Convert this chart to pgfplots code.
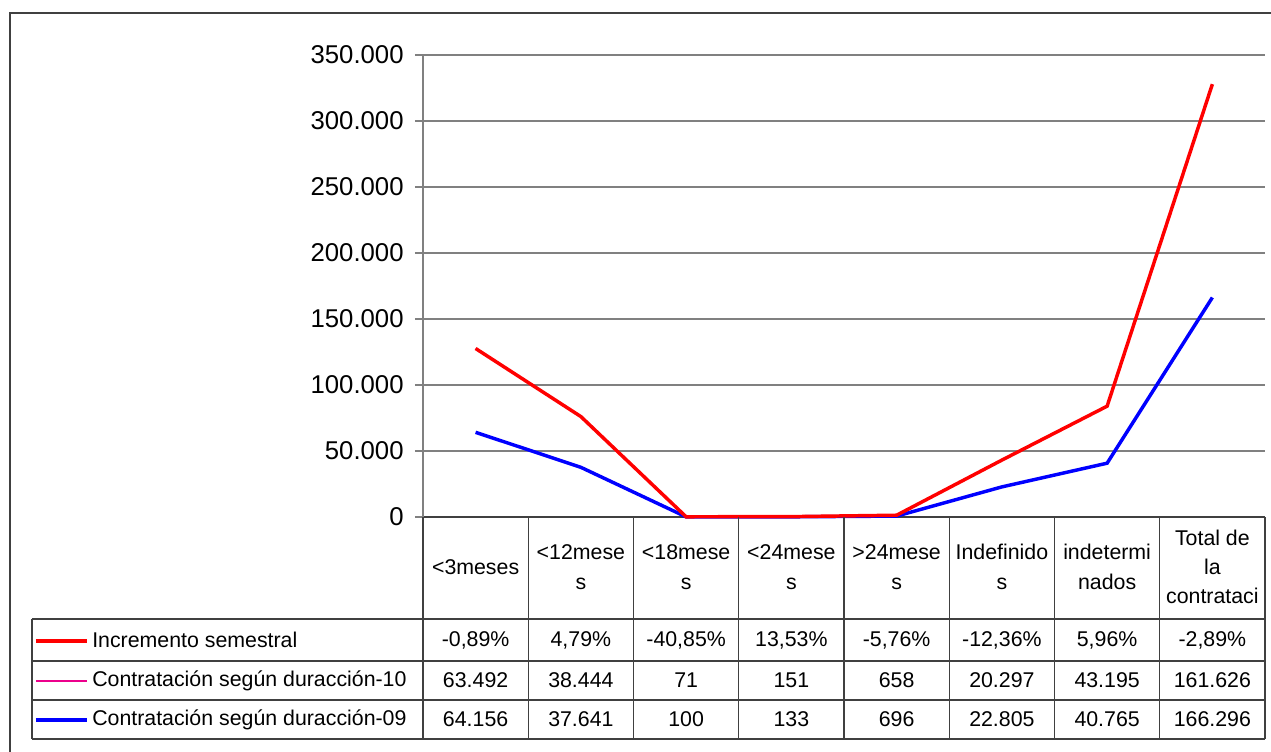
\documentclass[border=0pt]{standalone}
\usepackage{pgfplots}
\pgfplotsset{compat=1.18}
\usepackage{fontspec}
\setmainfont{Liberation Sans}
\definecolor{gridc}{RGB}{128,128,128}
\definecolor{tabc}{RGB}{64,64,64}
\begin{document}
\begin{tikzpicture}[x=0.75pt,y=0.75pt]
\begin{axis}[
  width=631.5pt, height=346.5pt, scale only axis,
  xmin=-0.5, xmax=7.5, ymin=0, ymax=350000,
  axis x line*=bottom, axis y line*=left,
  x axis line style={draw=tabc, line width=1.5pt},
  y axis line style={draw=gridc, line width=0.9pt},
  xtick=\empty,
  ytick={0,50000,100000,150000,200000,250000,300000,350000},
  ymajorgrids, major grid style={draw=gridc, line width=0.8pt},
  tick align=outside, major tick length=6pt,
  tick style={draw=gridc, line width=0.8pt},
  scaled y ticks=false,
  /pgf/number format/.cd, fixed, 1000 sep={.}, assume math mode=true,
  /pgfplots/.cd,
  yticklabel style={font=\fontsize{19.3}{22}\selectfont, xshift=-5pt},
  clip=false,
]
\addplot[draw=magenta, line width=0.8pt] coordinates {(0,127648) (1,76085) (2,171) (3,284) (4,1354) (5,43102) (6,83960) (7,327922)};
\addplot[draw=blue, line width=2.6pt] coordinates {(0,64156) (1,37641) (2,100) (3,133) (4,696) (5,22805) (6,40765) (7,166296)};
\addplot[draw=red, line width=2.6pt] coordinates {(0,127648) (1,76085) (2,171) (3,284) (4,1354) (5,43102) (6,83960) (7,327922)};
\coordinate (O) at (rel axis cs:0,0);
\end{axis}
\begin{scope}[shift={(O)}, shift={(-423,517)}, yscale=-1]
% outer frame
\draw[draw=tabc, line width=1.5pt] (10,780) -- (10,13) -- (1290,13);
% table lines
\foreach \k in {0,...,8} {
  \draw[draw=tabc, line width=0.8pt] ({423+105.25*\k},517) -- ({423+105.25*\k},739);
}
\draw[draw=tabc, line width=0.8pt] (32,619) -- (1265,619);
\draw[draw=tabc, line width=0.8pt] (32,661) -- (1265,661);
\draw[draw=tabc, line width=0.8pt] (32,700) -- (1265,700);
\draw[draw=tabc, line width=0.8pt] (32,739) -- (1265,739);
\draw[draw=tabc, line width=0.8pt] (32,619) -- (32,739);
% legend keys
\draw[red, line width=2.6pt] (36,641) -- (87,641);
\draw[magenta, line width=0.8pt] (36,681) -- (87,681);
\draw[blue, line width=2.6pt] (36,720) -- (87,720);
\begin{scope}[every node/.style={font=\fontsize{16}{22}\selectfont, inner sep=0pt}]
\node[anchor=west] at (92,640) {Incremento semestral};
\node[anchor=west] at (92,680.5) {Contratación según duracción-10};
\node[anchor=west] at (92,719.5) {Contratación según duracción-09};
% headers
\foreach \t [count=\i from 0] in {{<3meses},{<12mese\\s},{<18mese\\s},{<24mese\\s},{>24mese\\s},{Indefinido\\s},{indetermi\\nados},{Total de\\la\\contrataci}} {
  \node[align=center] at ({423+105.25*(\i+0.5)},567) {\t};
}
\foreach \t [count=\i from 0] in {-0{,}89\%,4{,}79\%,-40{,}85\%,13{,}53\%,-5{,}76\%,-12{,}36\%,5{,}96\%,-2{,}89\%} {
  \node at ({423+105.25*(\i+0.5)},640) {\t};
}
\foreach \t [count=\i from 0] in {63.492,38.444,71,151,658,20.297,43.195,161.626} {
  \node at ({423+105.25*(\i+0.5)},680.5) {\t};
}
\foreach \t [count=\i from 0] in {64.156,37.641,100,133,696,22.805,40.765,166.296} {
  \node at ({423+105.25*(\i+0.5)},719.5) {\t};
}
\end{scope}
\pgfresetboundingbox
\path[use as bounding box] (0,0) rectangle (1271,751);
\end{scope}
\end{tikzpicture}
\end{document}
